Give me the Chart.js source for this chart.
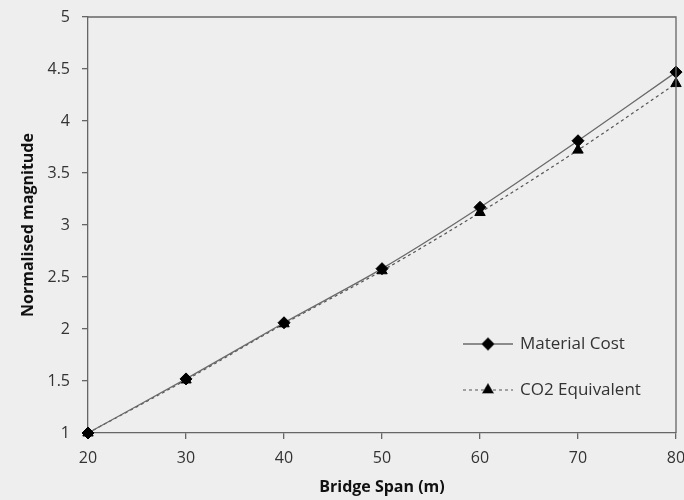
<!DOCTYPE html>
<html>
<head>
<meta charset="utf-8">
<script src="https://cdn.jsdelivr.net/npm/chart.js@4.4.0/dist/chart.umd.min.js"></script>
<style>
  html, body { margin: 0; padding: 0; background: #eeeeee; }
  #wrap { width: 684px; height: 500px; }
</style>
</head>
<body>
<div id="wrap"><canvas id="myChart" width="684" height="500"></canvas></div>
<script>
//Chart values
const spans = [20, 30, 40, 50, 60, 70, 80];
const materialCost = [1, 1.52, 2.06, 2.58, 3.17, 3.81, 4.47];
const co2Equivalent = [1, 1.51, 2.05, 2.56, 3.12, 3.72, 4.36];
const seriesNames = ["Material Cost", "CO2 Equivalent"];
const xTicks = [20, 30, 40, 50, 60, 70, 80];
const yTicks = [1, 1.5, 2, 2.5, 3, 3.5, 4, 4.5, 5];

const axisColor = "#666666";
const textColor = "#333333";
const fontFamily = "'Open Sans', 'Noto Sans', sans-serif";

const toPoints = function(values) {
  return spans.map((s, i) => ({x: s, y: values[i]}));
};

//Draws the box round the plot and the legend inside it
const boxAndLegend = {
  id: "boxAndLegend",
  afterDraw(chart) {
    const {ctx, chartArea} = chart;
    ctx.save();
    ctx.strokeStyle = axisColor;
    ctx.lineWidth = 1.3;
    ctx.beginPath();
    ctx.moveTo(chartArea.left, chartArea.top);
    ctx.lineTo(chartArea.right, chartArea.top);
    ctx.lineTo(chartArea.right, chartArea.bottom);
    ctx.stroke();

    const rows = [
      {y: 344, dash: [], style: "rectRot", radius: 6},
      {y: 390, dash: [3, 3], style: "triangle", radius: 6}
    ];
    rows.forEach((row, i) => {
      const ds = chart.data.datasets[i];
      ctx.strokeStyle = ds.borderColor;
      ctx.lineWidth = ds.borderWidth;
      ctx.setLineDash(row.dash);
      ctx.beginPath();
      ctx.moveTo(463, row.y);
      ctx.lineTo(513, row.y);
      ctx.stroke();
      ctx.setLineDash([]);
      Chart.helpers.drawPoint(ctx, {
        pointStyle: row.style, radius: row.radius, borderWidth: 1, rotation: 0
      }, 488, row.y);
      ctx.fillStyle = "#000";
      ctx.fill();
      ctx.fillStyle = textColor;
      ctx.font = "17px " + fontFamily;
      ctx.textBaseline = "middle";
      ctx.textAlign = "left";
      ctx.fillText(seriesNames[i], 520, row.y);
    });
    ctx.restore();
  }
};

const ctx = document.getElementById("myChart");
const myChart = new Chart(ctx, {
  type: "line",
  data: {
    datasets: [
      {
        label: seriesNames[0],
        data: toPoints(materialCost),
        borderColor: "#6a6a6a",
        borderWidth: 1.3,
        pointStyle: "rectRot",
        pointRadius: 6,
        pointBackgroundColor: "#000",
        pointBorderColor: "#000",
        pointBorderWidth: 1,
        tension: 0.3,
        fill: false,
        clip: false
      },
      {
        label: seriesNames[1],
        data: toPoints(co2Equivalent),
        borderColor: "#555555",
        borderWidth: 1.2,
        borderDash: [3, 3],
        pointStyle: "triangle",
        pointRadius: 6,
        pointBackgroundColor: "#000",
        pointBorderColor: "#000",
        pointBorderWidth: 1,
        tension: 0.3,
        fill: false,
        clip: false
      }
    ]
  },
  options: {
    responsive: false,
    animation: false,
    events: [],
    layout: { padding: { top: 17, right: 8, left: 0, bottom: 0 } },
    plugins: {
      legend: { display: false },
      tooltip: { enabled: false }
    },
    scales: {
      x: {
        type: "linear",
        min: 20,
        max: 80,
        afterBuildTicks(scale) {
          scale.ticks = xTicks.map(v => ({value: v}));
        },
        afterFit(scale) {
          scale.height = 67;
          scale.paddingLeft = 0;
          scale.paddingRight = 0;
        },
        grid: {
          drawOnChartArea: false,
          drawTicks: true,
          tickLength: 6,
          color: axisColor,
          lineWidth: 1.3
        },
        border: { color: axisColor, width: 1.3 },
        ticks: {
          color: textColor,
          padding: 10,
          maxRotation: 0,
          font: { family: fontFamily, size: 16 },
          callback: v => String(v)
        },
        title: {
          display: true,
          text: "Bridge Span (m)",
          color: "#111",
          font: { family: fontFamily, size: 16, weight: "bold" },
          padding: { top: 0, bottom: 3 }
        }
      },
      y: {
        min: 1,
        max: 5,
        afterBuildTicks(scale) {
          scale.ticks = yTicks.map(v => ({value: v}));
        },
        afterFit(scale) {
          scale.width = 88;
          scale.paddingTop = 0;
          scale.paddingBottom = 0;
        },
        grid: {
          drawOnChartArea: false,
          drawTicks: true,
          tickLength: 6,
          color: axisColor,
          lineWidth: 1.3
        },
        border: { color: axisColor, width: 1.3 },
        ticks: {
          color: textColor,
          padding: 12,
          font: { family: fontFamily, size: 16 },
          callback: v => String(v)
        },
        title: {
          display: true,
          text: "Normalised magnitude",
          color: "#111",
          font: { family: fontFamily, size: 16, weight: "bold" },
          padding: { top: 19, bottom: 0 }
        }
      }
    }
  },
  plugins: [boxAndLegend]
});
</script>
</body>
</html>
